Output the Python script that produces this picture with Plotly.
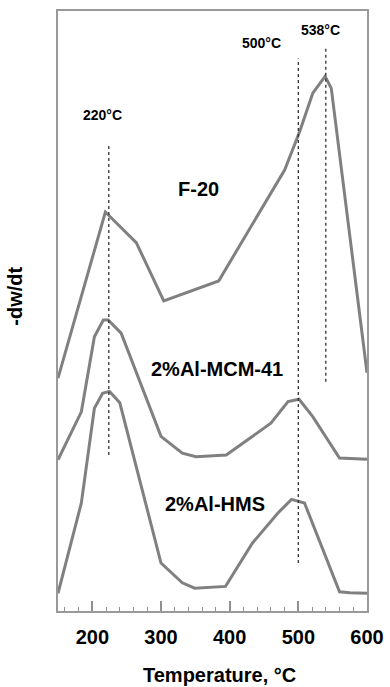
import plotly.graph_objects as go

# Temperature (°C) and -dw/dt (arbitrary, offset) values
f20_x = [150, 219, 264, 304, 384, 480, 502, 521, 539, 548, 600]
f20_y = [38.8, 66.5, 61.4, 51.7, 55.0, 73.5, 79.9, 86.3, 89.1, 87.1, 39.7]

mcm_x = [150, 184, 203, 216, 223, 242, 300, 331, 351, 395, 460, 485, 501, 521, 560, 600]
mcm_y = [25.2, 33.2, 45.7, 48.5, 48.5, 46.3, 29.1, 26.3, 25.7, 26.0, 31.3, 34.9, 35.3, 32.4, 25.5, 25.3]

hms_x = [150, 184, 203, 215, 225, 240, 300, 331, 349, 394, 433, 470, 490, 509, 560, 575, 600]
hms_y = [2.95, 18.0, 33.8, 36.3, 36.6, 34.7, 8.0, 4.7, 3.8, 4.1, 11.3, 16.3, 18.6, 18.0, 3.2, 3.05, 2.95]

# Dotted marker lines: x position, y start, y end
marker_x = [224, 500, 540]
marker_y0 = [26.0, 8.0, 38.2]
marker_y1 = [78.0, 92.1, 93.8]

peak_labels = ["220°C", "500°C", "538°C"]
peak_label_x = [215.5, 446, 533]
peak_label_y = [82.7, 94.7, 96.8]

series_names = ["F-20", "2%Al-MCM-41", "2%Al-HMS"]
series_label_x = [354, 381, 378]
series_label_y = [70.4, 40.4, 17.8]

FONT = "Liberation Sans, Arial, sans-serif"
LINE = "#808080"

fig = go.Figure()
for xs, ys, nm in [(f20_x, f20_y, series_names[0]), (mcm_x, mcm_y, series_names[1]), (hms_x, hms_y, series_names[2])]:
    fig.add_trace(go.Scatter(x=xs, y=ys, mode="lines", name=nm,
                             line=dict(color=LINE, width=3), showlegend=False))

for mx, a, b in zip(marker_x, marker_y0, marker_y1):
    fig.add_trace(go.Scatter(x=[mx, mx], y=[a, b], mode="lines", showlegend=False,
                             line=dict(color="#333333", width=1.3, dash="dot")))

for t, x, y in zip(peak_labels, peak_label_x, peak_label_y):
    fig.add_annotation(x=x, y=y, text="<b>%s</b>" % t, showarrow=False,
                       font=dict(family=FONT, size=14, color="black"))

for t, x, y in zip(series_names, series_label_x, series_label_y):
    fig.add_annotation(x=x, y=y, text="<b>%s</b>" % t, showarrow=False,
                       font=dict(family=FONT, size=20, color="black"))

# axis titles as annotations (paper coords relative to plot area 58..367 x 11..611)
fig.add_annotation(xref="paper", yref="paper", x=-0.140, y=0.525, text="<b>-dw/dt</b>",
                   textangle=-90, showarrow=False, xanchor="center", yanchor="middle",
                   font=dict(family=FONT, size=20, color="black"))
fig.add_annotation(xref="paper", yref="paper", x=0.523, y=-0.106, text="<b>Temperature, °C</b>",
                   showarrow=False, xanchor="center", yanchor="middle",
                   font=dict(family=FONT, size=20, color="black"))

fig.update_layout(
    width=390, height=687,
    margin=dict(l=58, r=23, t=11, b=76),
    paper_bgcolor="white", plot_bgcolor="white",
    font=dict(family=FONT, color="black"),
)
fig.update_xaxes(
    range=[150, 600], tick0=0, dtick=100, automargin=False,
    ticks="inside", ticklen=10, tickwidth=1.5, tickcolor="#909090",
    minor=dict(dtick=20, ticks="inside", ticklen=4, tickwidth=1.2, tickcolor="#909090"),
    showline=True, linecolor="#999999", linewidth=2, mirror=True,
    showgrid=False, zeroline=False,
    tickfont=dict(family=FONT, size=20, color="black"),
    tickprefix="<b>", ticksuffix="</b>",
    ticklabelstandoff=7,
)
fig.update_yaxes(
    range=[0, 100], showticklabels=False, ticks="", automargin=False,
    showline=True, linecolor="#999999", linewidth=2, mirror=True,
    showgrid=False, zeroline=False,
)

fig.write_html("out.html", config={"displayModeBar": False},
               post_script="document.body.style.margin='0';document.body.style.overflow='hidden';")
